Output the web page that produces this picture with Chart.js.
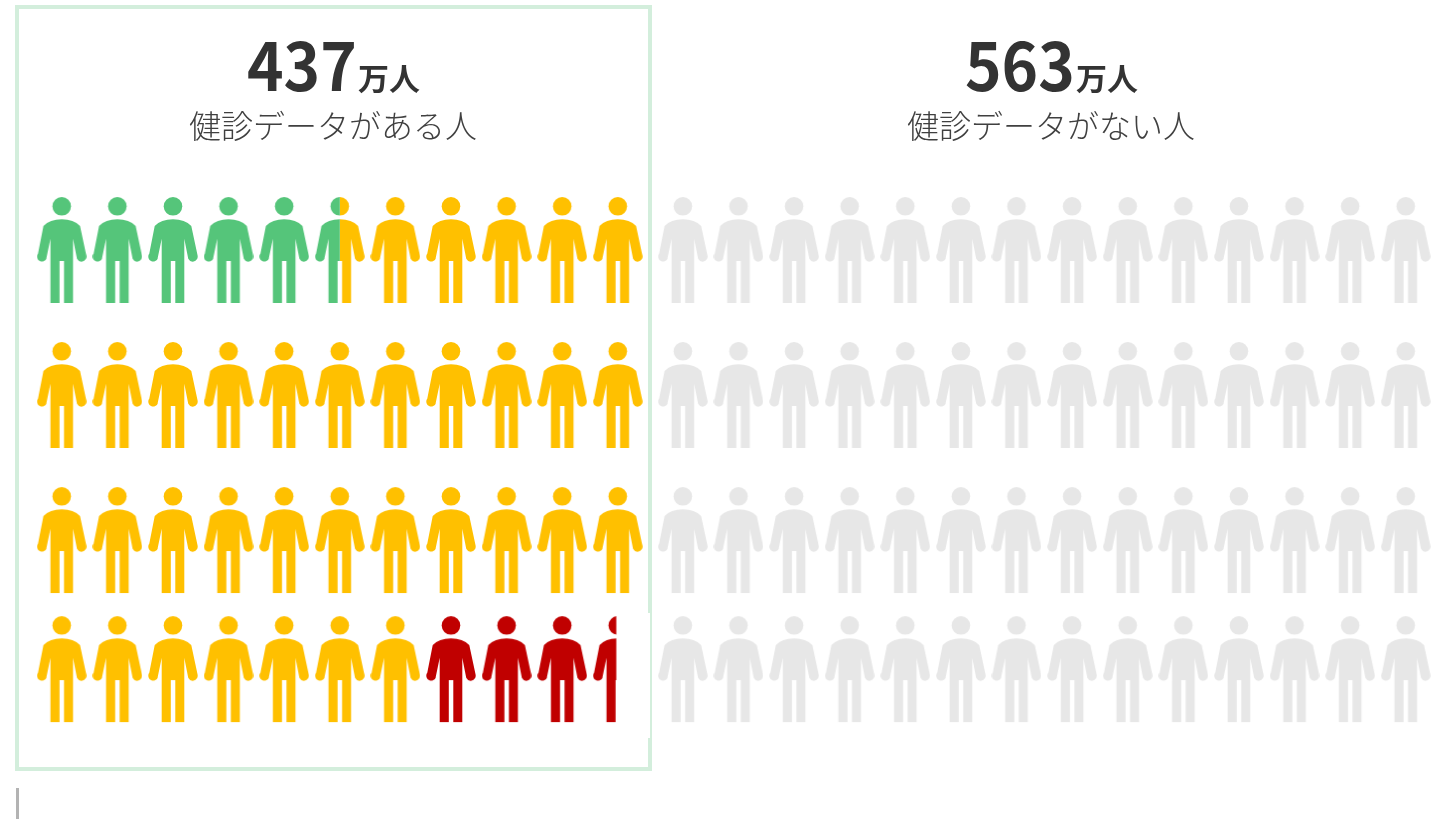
<!DOCTYPE html>
<html lang="ja">
<head>
<meta charset="utf-8">
<title>健診データ</title>
<script src="https://cdn.jsdelivr.net/npm/chart.js@4"></script>
<style>
  html, body { margin: 0; padding: 0; background: #fff; overflow: hidden; }
  #wrap { position: relative; width: 1438px; height: 819px; font-family: "Noto Sans CJK JP", sans-serif; }
  #chart { position: absolute; left: 0; top: 0; }
  .num, .unit, .cap { position: absolute; white-space: nowrap; line-height: 1; }
  .num { font-size: 66px; font-weight: 700; color: #333; transform: scaleX(0.94); transform-origin: left top; }
  .unit { font-size: 31px; font-weight: 700; color: #333; }
  .cap { font-size: 32px; font-weight: 300; color: #404040; }
</style>
</head>
<body>
<div id="wrap">
  <canvas id="chart" width="1438" height="819"></canvas>
</div>
<script>
// datos (una figura = 10万人)
const groupTotals = ["437", "563"];
const groupUnit = "万人";
const groupLabels = ["健診データがある人", "健診データがない人"];
const categories = ["green", "yellow", "red", "none"];
const personCounts = [5.5, 34.5, 3.47, 56];
const categoryColors = ["#55C57A", "#FFC000", "#C00000", "#E7E7E7"];

// columnas y filas en unidades de figura
const leftColumns = [0, 1, 2, 3, 4, 5, 6, 7, 8, 9, 10];
const rightColumns = [11.17, 12.17, 13.17, 14.17, 15.17, 16.17, 17.17, 18.17, 19.17, 20.17, 21.17, 22.17, 23.17, 24.17];
const rowLevels = [0, 1, 2, 2.89];

const ICON_W = 50;
const ICON_H = 108;

// Dibuja una persona; from/to es la parte visible del ancho (0..1)
const makePerson = (color, from, to) => {
    const c = document.createElement("canvas");
    c.width = ICON_W;
    c.height = ICON_H;
    const g = c.getContext("2d");
    g.beginPath();
    g.rect(from * ICON_W, 0, (to - from) * ICON_W, ICON_H);
    g.clip();
    g.translate(ICON_W / 2, 1);
    g.fillStyle = color;

    g.beginPath();
    g.arc(0, 9.3, 9.3, 0, Math.PI * 2);
    g.fill();

    g.beginPath();
    g.moveTo(0, 22.3);
    g.quadraticCurveTo(12, 22.3, 18.3, 29);
    g.lineTo(24.6, 58.5);
    g.arc(19.7, 59.6, 5, -0.2, Math.PI * 0.85);
    g.lineTo(11.3, 41.7);
    g.lineTo(11.3, 106);
    g.lineTo(2.3, 106);
    g.lineTo(2.3, 64);
    g.lineTo(-2.2, 64);
    g.lineTo(-2.2, 106);
    g.lineTo(-11.3, 106);
    g.lineTo(-11.3, 41.7);
    g.lineTo(-15.4, 61.4);
    g.arc(-19.7, 59.6, 5, Math.PI * 0.15, Math.PI * 1.2);
    g.lineTo(-18.3, 29);
    g.quadraticCurveTo(-12, 22.3, 0, 22.3);
    g.closePath();
    g.fill();
    return c;
};

// Reparte las personas por las casillas: izquierda por filas y luego derecha
const buildDatasets = () => {
    let pos = 0;
    return categories.map((name, i) => {
        const points = [];
        const styles = [];
        let left = personCounts[i];
        // el grupo sin datos empieza siempre en la columna derecha
        if (name === "none") pos = leftColumns.length * rowLevels.length;
        while (left > 0.001) {
            const slot = Math.floor(pos + 1e-6);
            const from = pos - slot;
            const to = Math.min(1, from + left);
            const leftSlots = leftColumns.length * rowLevels.length;
            let x, y;
            if (slot < leftSlots) {
                x = leftColumns[slot % leftColumns.length];
                y = rowLevels[Math.floor(slot / leftColumns.length)];
            } else {
                const k = slot - leftSlots;
                x = rightColumns[k % rightColumns.length];
                y = rowLevels[Math.floor(k / rightColumns.length)];
            }
            points.push({ x: x, y: y });
            styles.push(makePerson(categoryColors[i], from, to));
            left -= to - from;
            pos += to - from;
        }
        return {
            label: name,
            data: points,
            pointStyle: styles,
            showLine: false,
            clip: false,
        };
    });
};

// Marco verde, hueco blanco y la marca gris de abajo
const framePlugin = {
    id: "frame",
    beforeDatasetsDraw(chart) {
        const ctx = chart.ctx;
        ctx.save();
        ctx.strokeStyle = "#D3EEDC";
        ctx.lineWidth = 4;
        ctx.strokeRect(17, 7, 633, 762);
        ctx.fillStyle = "#fff";
        ctx.fillRect(617, 613, 33, 125);
        ctx.fillStyle = "#B3B3B3";
        ctx.fillRect(16, 788, 3, 31);
        ctx.restore();
    },
};

new Chart(document.getElementById("chart"), {
    type: "scatter",
    data: { datasets: buildDatasets() },
    options: {
        responsive: false,
        animation: false,
        layout: { padding: 0, autoPadding: false },
        plugins: { legend: { display: false }, tooltip: { enabled: false } },
        events: [],
        scales: {
            x: { type: "linear", display: false, min: -1.11, max: 24.75 },
            y: { type: "linear", display: false, reverse: true, min: -1.724, max: 3.924 },
        },
    },
    plugins: [framePlugin],
});

// Textos de cabecera
const wrap = document.getElementById("wrap");
const addText = (cls, text, left, top) => {
    const el = document.createElement("div");
    el.className = cls;
    el.textContent = text;
    el.style.left = left + "px";
    el.style.top = top + "px";
    wrap.appendChild(el);
};
addText("num", groupTotals[0], 247, 29);
addText("unit", groupUnit, 358, 61);
addText("cap", groupLabels[0], 189, 108);
addText("num", groupTotals[1], 965, 29);
addText("unit", groupUnit, 1076, 61);
addText("cap", groupLabels[1], 907, 108);
</script>
</body>
</html>
